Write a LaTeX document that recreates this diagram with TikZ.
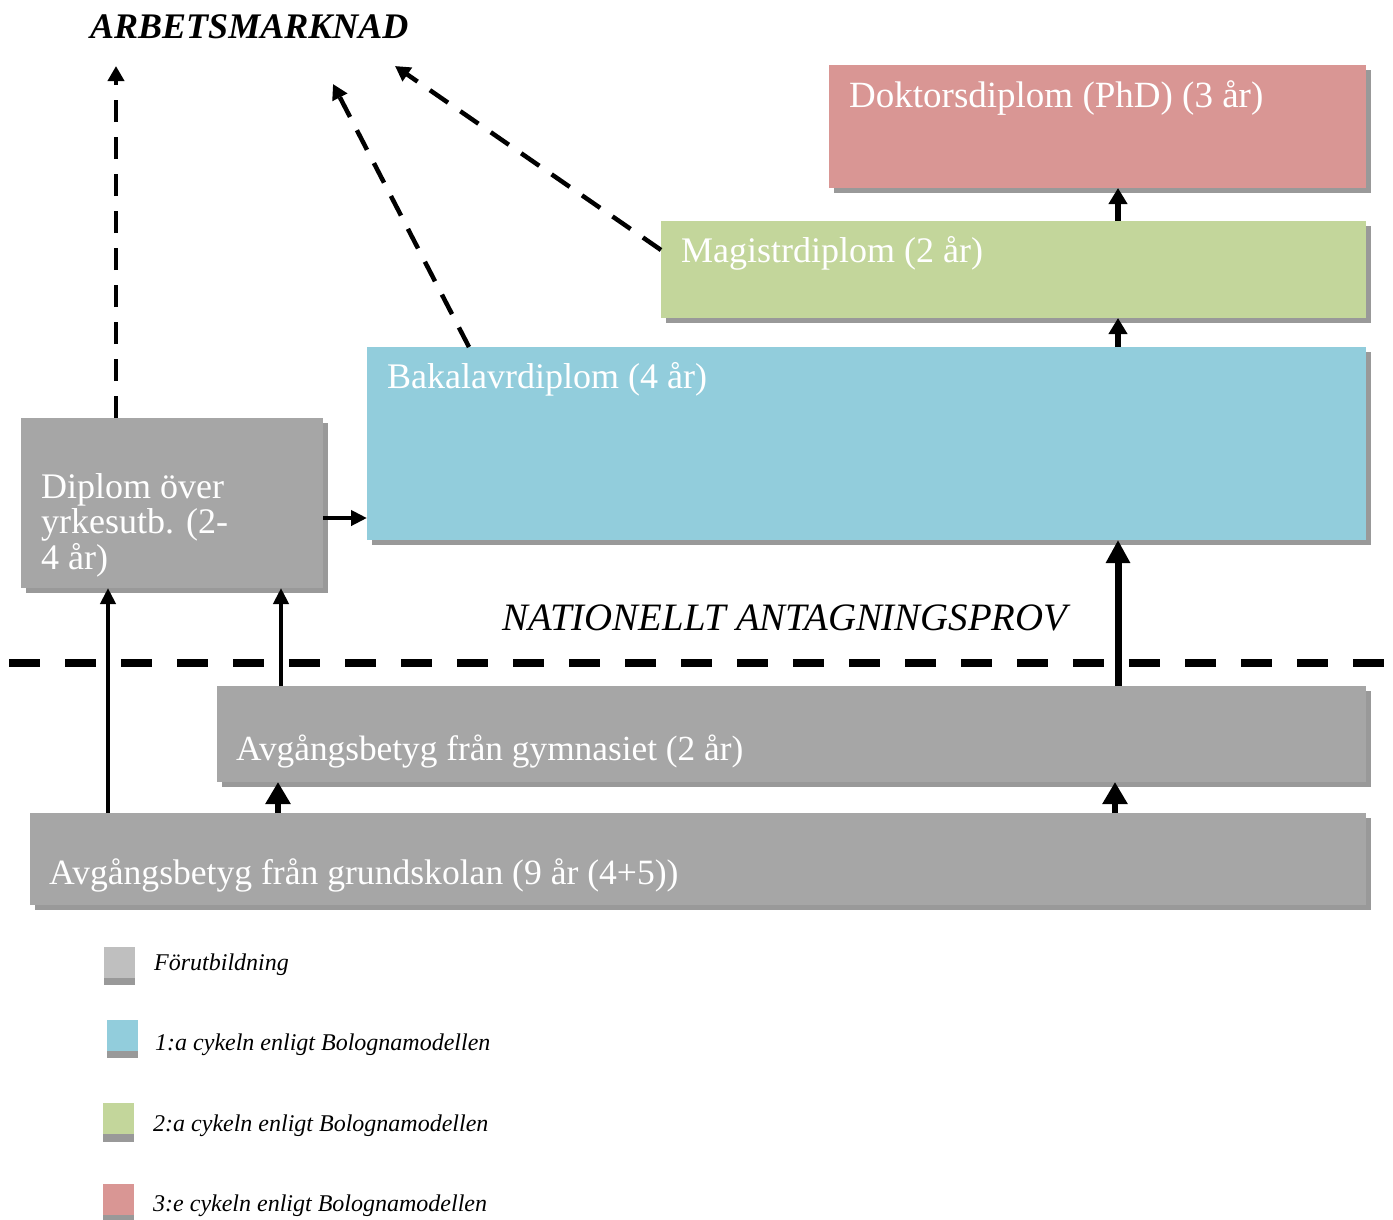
\documentclass[tikz,border=0pt]{standalone}
\usepackage{fontspec}
\setmainfont{Liberation Serif}
\usetikzlibrary{arrows.meta,shadows}
\definecolor{boxgray}{HTML}{A6A6A6}
\definecolor{shadowc}{HTML}{999999}
\definecolor{bluec}{HTML}{92CDDC}
\definecolor{greenc}{HTML}{C3D69B}
\definecolor{redc}{HTML}{D99694}
\definecolor{leggray}{HTML}{BFBFBF}
\newcommand\mybf{\fontsize{36}{40}\selectfont}
\newcommand\mylf{\fontsize{24}{28}\selectfont\itshape}
\begin{document}
\begin{tikzpicture}[x=1pt,y=-1pt,
  box/.style={draw=none, inner sep=0pt, outer sep=0pt, anchor=north west,
    drop shadow={shadow xshift=5pt,shadow yshift=-5pt,fill=shadowc,opacity=1}},
  txt/.style={text=white, font=\mybf, anchor=base west, inner sep=0pt},
  legtxt/.style={text=black, font=\mylf, anchor=base west, inner sep=0pt},
  dasharrow/.style={line width=4.5pt, dash pattern=on 22pt off 15pt, -{Triangle[length=15pt,width=16pt]}},
  thinarrow/.style={line width=4pt, -{Triangle[length=16pt,width=15pt]}},
  medarrow/.style={line width=6pt, -{Triangle[length=16pt,width=18pt]}},
  shortarrow/.style={line width=6pt, -{Triangle[length=22pt,width=24pt]}},
  bigarrow/.style={line width=7pt, -{Triangle[length=23pt,width=23pt]}}
]
\useasboundingbox (0,0) rectangle (1393,1219);

% boxes
\node[box, fill=redc,   minimum width=537pt,  minimum height=123pt] (phd)   at (829,65)  {};
\node[box, fill=greenc, minimum width=705pt,  minimum height=97pt]  (mag)   at (661,221) {};
\node[box, fill=bluec,  minimum width=999pt,  minimum height=193pt] (bak)   at (367,347) {};
\node[box, fill=boxgray,minimum width=302pt,  minimum height=170pt] (dip)   at (21,418)  {};
\node[box, fill=boxgray,minimum width=1149pt, minimum height=96pt]  (gym)   at (217,686) {};
\node[box, fill=boxgray,minimum width=1336pt, minimum height=92pt]  (grund) at (30,813)  {};

% box texts
\node[txt, font=\fontsize{37}{40}\selectfont] (tphd) at (849,107) {Doktorsdiplom (PhD) (3 år)};
\node[txt] (tmag) at (681,262) {Magistrdiplom (2 år)};
\node[txt] (tbak) at (387,388) {Bakalavrdiplom (4 år)};
\node[txt] (tdip) at (41,498) {\fontsize{36}{34.5}\selectfont\begin{tabular}[t]{@{}l@{}}Diplom över\\yrkesutb. (2-\\4 år)\end{tabular}};
\node[txt, font=\fontsize{35.3}{40}\selectfont] (tgym) at (236,760) {Avgångsbetyg från gymnasiet (2 år)};
\node[txt, font=\fontsize{35.6}{40}\selectfont] (tgrund) at (49,884) {Avgångsbetyg från grundskolan (9 år (4+5))};

% headings
\node[anchor=base west, inner sep=0pt, font=\fontsize{36}{40}\selectfont\bfseries\itshape] (arb) at (90,38) {ARBETSMARKNAD};
\node[anchor=base west, inner sep=0pt, font=\fontsize{38.8}{42}\selectfont\itshape] (nat) at (502,630) {NATIONELLT ANTAGNINGSPROV};

% national test line
\coordinate (hl) at (9,663);
\coordinate (hr) at (1385,663);
\draw[line width=8pt, dash pattern=on 31pt off 25pt] (hl) -- (hr);

% labour market arrows
\coordinate (am1) at (116,66);
\coordinate (am2) at (333,84);
\coordinate (am3) at (395,66);
\draw[dasharrow] (dip.north -| am1) -- (am1);
\draw[dasharrow] (bak.north -| 469,0) -- (am2);
\draw[dasharrow] (mag.west |- 0,250) -- (am3);

% solid arrows
\draw[thinarrow] (dip.east |- 0,518) -- (bak.west |- 0,518);
\draw[thinarrow] (grund.north -| 108,0) -- (dip.south -| 108,0);
\draw[thinarrow] (gym.north -| 281,0) -- (dip.south -| 281,0);
\draw[bigarrow] (gym.north -| 1118,0) -- (bak.south -| 1118,0);
\draw[shortarrow] (grund.north -| 278,0) -- (gym.south -| 278,0);
\draw[shortarrow] (grund.north -| 1115,0) -- (gym.south -| 1115,0);
\draw[medarrow] (bak.north -| 1118,0) -- (mag.south -| 1118,0);
\draw[medarrow] (mag.north -| 1118,0) -- (phd.south -| 1118,0);

% legend
\fill[leggray] (104,947) rectangle (135,978);
\fill[shadowc] (104,978) rectangle (135,985);
\fill[bluec] (107,1020) rectangle (138,1051);
\fill[shadowc] (107,1051) rectangle (138,1058);
\fill[greenc] (103,1103) rectangle (134,1134);
\fill[shadowc] (103,1134) rectangle (134,1142);
\fill[redc] (103,1184) rectangle (134,1215);
\fill[shadowc] (103,1215) rectangle (134,1222);
\node[legtxt] (l1) at (154,970) {Förutbildning};
\node[legtxt] (l2) at (155,1050) {1:a cykeln enligt Bolognamodellen};
\node[legtxt] (l3) at (153,1131) {2:a cykeln enligt Bolognamodellen};
\node[legtxt] (l4) at (153,1211) {3:e cykeln enligt Bolognamodellen};
\end{tikzpicture}
\end{document}
